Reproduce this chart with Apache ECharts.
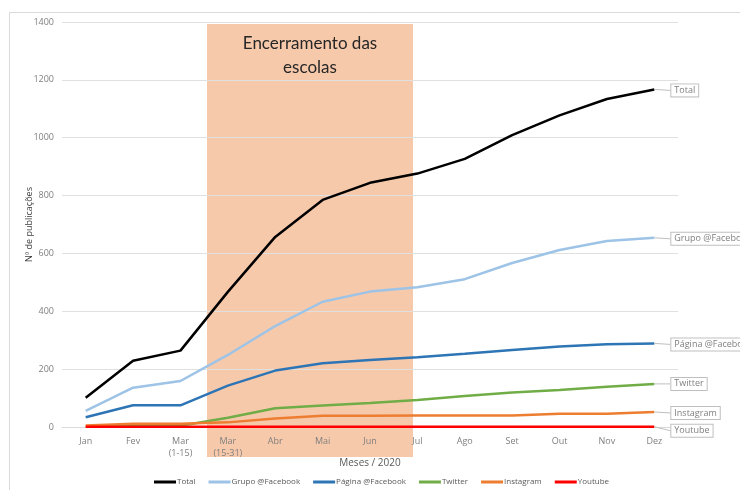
<!DOCTYPE html>
<html><head><meta charset="utf-8">
<script src="https://cdn.jsdelivr.net/npm/echarts@6/dist/echarts.min.js"></script>
<style>html,body{margin:0;padding:0;background:#fff}#c{width:740px;height:490px}</style>
</head><body><div id="c"></div>
<script>
const categories = ['Jan','Fev','Mar\n(1-15)','Mar\n(15-31)','Abr','Mai','Jun','Jul','Ago','Set','Out','Nov','Dez'];
const total     = [101,229,264,467,657,785,844,876,927,1009,1077,1134,1167];
const grupoFb   = [56,136,159,249,349,433,468,483,511,567,612,643,654];
const paginaFb  = [34,75,75,143,195,220,232,241,253,266,278,286,289];
const twitter   = [2,3,4,32,65,74,83,93,107,119,128,139,149];
const instagram = [5,11,11,16,29,39,39,40,40,40,46,46,52];
const youtube   = [1,1,1,1,1,1,1,1,1,1,1,1,1];
const yTicks = [0,200,400,600,800,1000,1200,1400];

const font = 'Open Sans, Noto Sans, sans-serif';
function mk(name, data, color, width, dy) {
  const last = data.length - 1;
  return {
    name, type: 'line', symbol: 'circle', symbolSize: 0.01, showSymbol: true, smooth: false,
    data: data.map((v, i) => i === last ? { value: v, label: { show: true } } : v),
    lineStyle: { color, width }, itemStyle: { color }, z: 3,
    emphasis: { disabled: true },
    label: {
      show: false, position: 'right', formatter: name, color: '#7f7f7f', fontSize: 9, fontFamily: font,
      borderColor: '#bfbfbf', borderWidth: 1, backgroundColor: '#fff',
      padding: [2, 3, 1, 3], distance: 0
    },
    labelLayout: { dx: 17, dy: dy },
    labelLine: { show: true, lineStyle: { color: '#bfbfbf', width: 1 } }
  };
}
const chart = echarts.init(document.getElementById('c'), null, { renderer: 'canvas' });
chart.setOption({
  animation: false,
  backgroundColor: '#fff',
  grid: { left: 62, right: 62, top: 22, bottom: 63, containLabel: false },
  xAxis: {
    type: 'category', data: categories, boundaryGap: true,
    name: 'Meses / 2020', nameLocation: 'middle', nameGap: 31, nameMoveOverlap: false,
    nameTextStyle: { color: '#595959', fontSize: 10, fontFamily: font },
    axisLine: { lineStyle: { color: '#d9d9d9' } }, axisTick: { show: false },
    axisLabel: { color: '#7f7f7f', fontSize: 9, fontFamily: font, margin: 8, lineHeight: 12, interval: 0 }
  },
  yAxis: {
    type: 'value', min: yTicks[0], max: yTicks[yTicks.length - 1], interval: 200,
    name: 'Nº de publicações', nameLocation: 'middle', nameGap: 28, nameMoveOverlap: false,
    nameTextStyle: { color: '#404040', fontSize: 9, fontFamily: font },
    axisLine: { show: false }, axisTick: { show: false },
    axisLabel: { color: '#7f7f7f', fontSize: 9, fontFamily: font, margin: 8, formatter: v => String(v) },
    splitLine: { lineStyle: { color: '#e0e0e0', width: 1 } }
  },
  legend: {
    bottom: -1, left: 149, icon: 'rect', itemWidth: 22, itemHeight: 3, itemGap: 13,
    textStyle: { color: '#595959', fontSize: 8, fontFamily: font, padding: [0, 0, 0, -4] },
    data: ['Total','Grupo @Facebook','Página @Facebook','Twitter','Instagram','Youtube']
  },
  graphic: [
    { type: 'rect', left: 7, top: 10, shape: { width: 740, height: 480 }, style: { fill: 'none', stroke: '#d9d9d9', lineWidth: 1 }, z: -10 },
    { type: 'rect', left: 207, top: 24, shape: { width: 206, height: 433 }, style: { fill: '#F7C9AB' }, z: -1 },
    { type: 'text', x: 310, y: 32, style: { text: 'Encerramento das\nescolas', fill: '#262626', font: '17px Lato, Open Sans, sans-serif', align: 'center', lineHeight: 24 }, z: 2 }
  ],
  series: [
    mk('Total', total, '#000000', 2.5, 1),
    mk('Grupo @Facebook', grupoFb, '#9DC3E6', 2.5, 1),
    mk('Página @Facebook', paginaFb, '#2E75B6', 2.5, 1),
    mk('Twitter', twitter, '#70AD47', 2.5, 0),
    mk('Instagram', instagram, '#ED7D31', 2.5, 1),
    mk('Youtube', youtube, '#FF0000', 2.5, 4)
  ]
});
</script></body></html>
